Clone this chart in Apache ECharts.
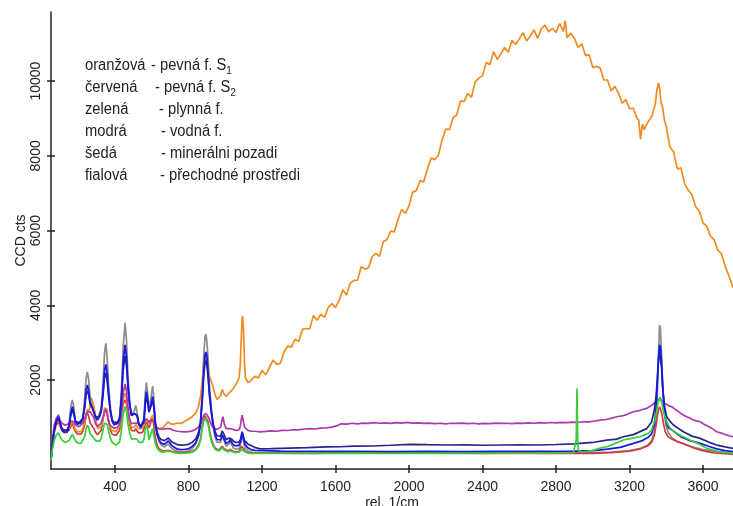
<!DOCTYPE html>
<html>
<head>
<meta charset="utf-8">
<script src="https://cdn.jsdelivr.net/npm/echarts@6/dist/echarts.min.js"></script>
<style>
  html, body { margin: 0; padding: 0; background: #fff; }
  #chart { width: 733px; height: 506px; }
</style>
</head>
<body>
<div id="chart"></div>
<script>
// Raman shift grid (rel. 1/cm) for the mineral-band region
const lowShift = [
  52, 60, 70, 80, 92, 100, 110, 120, 130, 140,
  150, 160, 168, 175, 185, 195, 205, 215, 225, 235,
  243, 250, 257, 265, 275, 285, 295, 305, 315, 325,
  335, 343, 350, 357, 365, 375, 385, 395, 405, 415,
  425, 435, 445, 455, 463, 470, 480, 490, 500, 507,
  513, 520, 530, 540, 550, 558, 565, 571, 578, 585,
  592, 598, 605, 612, 620, 630, 640, 650, 660, 670,
  680, 690, 700, 710, 720, 740, 760, 780, 800, 820,
  840, 855, 865, 875, 883, 890, 895, 900, 907, 915,
  925, 935, 945, 955, 965, 975, 983, 988, 995, 1005,
  1015, 1022, 1028, 1035, 1045, 1060, 1075, 1082, 1088, 1092,
  1095, 1100, 1105, 1110, 1125, 1140
];

// CCD counts on lowShift
const grayLow = [
  -150, 300, 660, 900, 1080, 900, 700, 600, 560, 600,
  800, 1300, 1465, 1320, 900, 820, 810, 860, 980, 1500,
  2050, 2220, 2000, 1550, 1470, 1250, 1020, 940, 970, 1250,
  1950, 2700, 2980, 2650, 1900, 1300, 900, 800, 790, 840,
  980, 1700, 2900, 3530, 3050, 2200, 1450, 1050, 1010, 1200,
  1320, 1150, 820, 730, 780, 980, 1650, 1940, 1650, 1200,
  1180, 1600, 1840, 1500, 850, 520, 360, 270, 220, 210,
  240, 290, 240, 170, 120, 90, 80, 85, 100, 160,
  290, 520, 850, 1750, 2650, 3150, 3230, 3050, 2550, 1800,
  1200, 750, 480, 340, 290, 330, 500, 540, 360, 230,
  220, 300, 370, 260, 180, 150, 170, 250, 430, 560,
  520, 350, 230, 170, 100, 70
];
const blueLow = [
  -150, 300, 650, 860, 1020, 880, 700, 610, 575, 610,
  760, 1120, 1290, 1180, 880, 820, 820, 860, 950, 1300,
  1750, 1870, 1700, 1400, 1290, 1140, 990, 930, 960, 1150,
  1650, 2250, 2420, 2200, 1650, 1150, 900, 810, 800, 840,
  950, 1500, 2500, 2940, 2600, 1950, 1350, 1050, 1000, 1100,
  1150, 1050, 800, 720, 760, 900, 1450, 1690, 1480, 1150,
  1100, 1380, 1560, 1300, 830, 540, 400, 320, 280, 280,
  320, 370, 320, 240, 190, 150, 140, 145, 160, 220,
  330, 520, 780, 1500, 2250, 2680, 2750, 2650, 2200, 1600,
  1100, 780, 540, 410, 370, 400, 540, 580, 420, 300,
  290, 360, 420, 330, 260, 240, 260, 330, 480, 600,
  560, 420, 320, 260, 180, 140
];
const navyLow = [
  -150, 320, 680, 880, 980, 880, 730, 660, 630, 660,
  780, 1060, 1200, 1110, 900, 860, 860, 900, 980, 1250,
  1620, 1720, 1600, 1350, 1260, 1140, 1020, 970, 1000, 1160,
  1580, 2050, 2200, 2000, 1580, 1180, 940, 860, 850, 880,
  980, 1450, 2280, 2650, 2380, 1850, 1330, 1080, 1030, 1100,
  1130, 1060, 840, 770, 800, 920, 1350, 1560, 1400, 1140,
  1110, 1330, 1450, 1250, 850, 600, 480, 410, 380, 380,
  410, 450, 410, 340, 300, 270, 260, 265, 280, 330,
  430, 600, 840, 1450, 2100, 2450, 2520, 2420, 2050, 1550,
  1150, 820, 620, 510, 470, 500, 640, 680, 530, 410,
  390, 450, 500, 420, 360, 330, 340, 400, 530, 620,
  590, 470, 380, 330, 280, 250
];
const redLow = [
  -150, 250, 600, 800, 885, 780, 650, 600, 590, 600,
  660, 760, 840, 740, 620, 560, 530, 550, 620, 800,
  1050, 1108, 1040, 850, 800, 700, 600, 540, 560, 650,
  950, 1140, 1197, 1120, 920, 660, 550, 520, 520, 560,
  650, 1000, 1380, 1465, 1360, 1100, 820, 650, 600, 640,
  700, 640, 580, 560, 600, 700, 820, 885, 800, 720,
  760, 900, 980, 760, 450, 250, 160, 120, 100, 95,
  110, 150, 110, 90, 80, 65, 60, 62, 70, 90,
  150, 260, 400, 750, 930, 1040, 1064, 1020, 880, 650,
  420, 270, 180, 135, 120, 140, 230, 250, 160, 110,
  100, 120, 140, 110, 90, 80, 90, 140, 230, 280,
  260, 160, 110, 85, 60, 50
];
const greenLow = [
  -150, 150, 400, 520, 590, 500, 400, 350, 330, 340,
  380, 470, 555, 470, 380, 320, 300, 310, 360, 480,
  700, 796, 730, 560, 520, 450, 380, 350, 360, 430,
  660, 840, 885, 820, 650, 440, 330, 280, 260, 280,
  340, 650, 1100, 1286, 1150, 860, 580, 420, 390, 430,
  480, 420, 340, 300, 330, 420, 680, 796, 680, 400,
  420, 600, 700, 500, 300, 170, 110, 80, 70, 70,
  90, 110, 90, 70, 60, 45, 40, 42, 50, 70,
  130, 230, 380, 700, 900, 990, 1019, 970, 820, 580,
  360, 230, 150, 115, 100, 120, 190, 200, 130, 90,
  80, 95, 110, 85, 70, 60, 70, 100, 140, 160,
  150, 100, 70, 55, 45, 40
];
const purpleLow = [
  -150, 400, 800, 980, 1050, 950, 850, 800, 790, 800,
  840, 900, 930, 880, 800, 760, 750, 780, 850, 950,
  1080, 1150, 1100, 1150, 1200, 1000, 820, 760, 770, 850,
  1000, 1150, 1220, 1100, 900, 780, 730, 710, 710, 740,
  820, 1050, 1650, 1900, 1700, 1300, 950, 830, 810, 850,
  900, 850, 800, 790, 800, 850, 950, 1000, 930, 870,
  880, 950, 1000, 880, 760, 710, 690, 690, 685, 690,
  700, 720, 700, 670, 650, 630, 620, 615, 620, 640,
  680, 750, 830, 930, 1060, 1090, 1108, 1090, 1020, 930,
  800, 720, 690, 680, 690, 740, 950, 1019, 820, 700,
  680, 700, 720, 690, 665, 655, 670, 760, 960, 1064,
  1030, 860, 740, 690, 650, 635
];
const orangeLow = [
  -150, 280, 640, 850, 940, 830, 700, 650, 640, 650,
  710, 820, 900, 800, 680, 620, 600, 620, 700, 880,
  1100, 1220, 1150, 1300, 1450, 1300, 1000, 700, 680, 760,
  950, 1250, 1300, 1220, 900, 720, 650, 620, 620, 660,
  760, 960, 1500, 1650, 1500, 1200, 880, 730, 710, 750,
  810, 750, 690, 670, 710, 800, 920, 980, 900, 820,
  860, 990, 1060, 880, 760, 720, 700, 700, 720, 760,
  830, 885, 830, 800, 820, 850, 840, 900, 950, 1020,
  1120, 1300, 1550, 1950, 2400, 2650, 2680, 2500, 2250, 2100,
  2050, 1800, 1600, 1480, 1500, 1580, 1750, 1770, 1620, 1560,
  1600, 1660, 1700, 1720, 1780, 1900, 2050, 2400, 3200, 3650,
  3710, 3250, 2450, 2050, 1930, 1990
];

// [shift, counts] above 1150 rel. 1/cm
const orangeHigh = [
  [1160, 2100], [1180, 2055], [1200, 2260], [1220, 2140], [1240, 2330], [1260, 2535],
  [1280, 2420], [1300, 2450], [1320, 2750], [1340, 2910], [1360, 2880], [1380, 3090],
  [1400, 3030], [1420, 3355], [1440, 3380], [1460, 3370], [1480, 3730], [1500, 3600],
  [1520, 3760], [1540, 3675], [1560, 3940], [1580, 4045], [1600, 3940], [1620, 4130],
  [1640, 4415], [1660, 4270], [1680, 4590], [1700, 4670], [1720, 4675], [1740, 5030],
  [1760, 4970], [1780, 5005], [1800, 5310], [1820, 5390], [1840, 5310], [1860, 5710],
  [1880, 5755], [1900, 5990], [1920, 5965], [1940, 6300], [1960, 6565], [1980, 6460],
  [2000, 6660], [2020, 7030], [2040, 7070], [2060, 7340], [2080, 7305], [2100, 7650],
  [2120, 7940], [2140, 7900], [2160, 8020], [2180, 8425], [2200, 8720], [2220, 8700],
  [2240, 9020], [2260, 9100], [2280, 9470], [2300, 9450], [2320, 9670], [2340, 9565],
  [2360, 9980], [2380, 10080], [2400, 10140], [2420, 10500], [2440, 10440], [2460, 10790],
  [2480, 10580], [2500, 10730], [2520, 10900], [2540, 10770], [2560, 11090], [2580, 10980],
  [2600, 11130], [2620, 11300], [2640, 11075], [2660, 11200], [2680, 11370], [2700, 11140],
  [2720, 11405], [2740, 11500], [2760, 11320], [2780, 11415], [2800, 11300], [2820, 11540],
  [2840, 11330], [2850, 11620], [2860, 11160], [2880, 11280], [2900, 11150], [2920, 10900],
  [2940, 11000], [2960, 10690], [2980, 10705], [3000, 10360], [3020, 10400], [3040, 10350],
  [3060, 10030], [3080, 10030], [3100, 9740], [3120, 9860], [3140, 9680], [3160, 9410],
  [3180, 9505], [3200, 9260], [3220, 9275], [3240, 9020], [3250, 8950], [3260, 8450],
  [3270, 8850], [3280, 8700], [3290, 8820], [3300, 8900], [3320, 9050], [3340, 9380],
  [3350, 9800], [3358, 9950], [3365, 9750], [3372, 9420], [3380, 9300], [3390, 8950],
  [3400, 8780], [3420, 8230], [3440, 8110], [3460, 7650], [3480, 7680], [3500, 7250],
  [3520, 7080], [3540, 6950], [3560, 6640], [3580, 6520], [3600, 6200], [3620, 6120],
  [3640, 5850], [3660, 5760], [3680, 5480], [3700, 5380], [3720, 5050], [3740, 4800],
  [3763, 4480]
];
const grayHigh = [
  [1160, 55], [1300, 45], [1500, 50], [1700, 60], [1900, 55], [2100, 60], [2300, 50],
  [2500, 45], [2700, 50], [2900, 55], [3000, 60], [3100, 75], [3200, 110], [3260, 170],
  [3300, 260], [3320, 380], [3335, 600], [3345, 1000], [3352, 1700], [3358, 2700],
  [3363, 3470], [3368, 3400], [3374, 2700], [3380, 1900], [3388, 1200], [3398, 800],
  [3412, 580], [3430, 460], [3460, 360], [3500, 280], [3550, 200], [3600, 140],
  [3680, 80], [3763, 45]
];
const redHigh = [
  [1160, 50], [1300, 45], [1500, 40], [1650, 60], [1750, 80], [1850, 60], [2000, 50],
  [2100, 70], [2200, 45], [2400, 40], [2600, 45], [2800, 40], [3000, 40], [3100, 60],
  [3200, 100], [3260, 160], [3300, 240], [3320, 330], [3335, 520], [3345, 800],
  [3352, 1050], [3358, 1220], [3364, 1286], [3370, 1240], [3376, 1100], [3384, 850],
  [3394, 620], [3410, 480], [3430, 420], [3460, 350], [3493, 300], [3540, 200],
  [3584, 127], [3650, 60], [3700, 35], [3763, 10]
];
const greenHigh = [
  [1160, 40], [1300, 35], [1500, 40], [1700, 45], [1900, 40], [2100, 45], [2300, 40],
  [2500, 42], [2700, 45], [2850, 48], [2895, 50], [2905, 65], [2910, 400], [2914, 1784],
  [2918, 450], [2922, 110], [2935, 80], [2970, 95], [3000, 120], [3040, 180], [3076, 216],
  [3120, 300], [3166, 395], [3210, 440], [3257, 484], [3302, 573], [3320, 660],
  [3338, 930], [3350, 1250], [3358, 1480], [3366, 1537], [3374, 1420], [3385, 1150],
  [3402, 880], [3420, 720], [3438, 640], [3480, 510], [3529, 395], [3580, 280],
  [3620, 172], [3680, 90], [3763, 40]
];
const blueHigh = [
  [1160, 120], [1300, 100], [1500, 90], [1700, 95], [1900, 85], [2100, 90], [2300, 85],
  [2500, 90], [2700, 95], [2900, 100], [3000, 110], [3080, 150], [3150, 200], [3221, 306],
  [3270, 380], [3300, 460], [3320, 560], [3335, 800], [3345, 1300], [3352, 2000],
  [3358, 2650], [3363, 2940], [3368, 2880], [3374, 2500], [3380, 1900], [3388, 1300],
  [3398, 900], [3412, 720], [3438, 640], [3480, 480], [3530, 380], [3584, 306],
  [3630, 230], [3674, 160], [3720, 110], [3763, 83]
];
const navyHigh = [
  [1160, 200], [1189, 160], [1250, 165], [1350, 180], [1450, 190], [1550, 210],
  [1625, 216], [1700, 230], [1800, 235], [1900, 255], [2005, 280], [2100, 270],
  [2200, 262], [2300, 268], [2400, 255], [2500, 262], [2600, 266], [2700, 262],
  [2800, 276], [2900, 295], [2931, 306], [3000, 330], [3076, 395], [3130, 420],
  [3166, 484], [3221, 540], [3257, 620], [3293, 700], [3320, 880], [3335, 1200],
  [3345, 1600], [3352, 2100], [3358, 2550], [3363, 2750], [3368, 2700], [3374, 2350],
  [3380, 1800], [3390, 1300], [3402, 1019], [3420, 900], [3438, 796], [3493, 617],
  [3540, 500], [3584, 439], [3630, 340], [3674, 261], [3720, 210], [3763, 172]
];
const purpleHigh = [
  [1160, 630], [1190, 615], [1220, 625], [1250, 640], [1280, 630], [1310, 655],
  [1340, 650], [1370, 670], [1400, 665], [1430, 690], [1460, 700], [1490, 690],
  [1520, 715], [1550, 720], [1580, 740], [1610, 780], [1630, 830], [1660, 820],
  [1690, 845], [1720, 830], [1750, 850], [1780, 840], [1810, 860], [1840, 845],
  [1870, 855], [1900, 840], [1930, 860], [1960, 850], [1990, 870], [2020, 850],
  [2050, 855], [2080, 840], [2110, 850], [2140, 835], [2170, 845], [2200, 830],
  [2230, 845], [2260, 840], [2290, 850], [2320, 835], [2350, 845], [2380, 830],
  [2410, 840], [2440, 835], [2470, 850], [2500, 840], [2530, 845], [2560, 835],
  [2590, 850], [2620, 840], [2650, 855], [2680, 845], [2710, 860], [2740, 850],
  [2770, 865], [2800, 855], [2830, 870], [2860, 860], [2890, 875], [2920, 870],
  [2950, 885], [2980, 880], [3010, 905], [3040, 930], [3070, 945], [3100, 975],
  [3130, 1019], [3160, 1040], [3190, 1090], [3221, 1152], [3250, 1180], [3275, 1220],
  [3293, 1241], [3310, 1290], [3325, 1340], [3340, 1410], [3352, 1470], [3362, 1500],
  [3372, 1470], [3385, 1400], [3400, 1350], [3415, 1310], [3430, 1286], [3445, 1230],
  [3460, 1180], [3475, 1120], [3493, 1064], [3510, 1020], [3525, 990], [3540, 950],
  [3560, 910], [3584, 885], [3605, 820], [3630, 760], [3650, 700], [3674, 617],
  [3700, 580], [3720, 545], [3740, 510], [3763, 484]
];

// Axis ticks and annotation text
const xTicks = [400, 800, 1200, 1600, 2000, 2400, 2800, 3200, 3600];
const yTicks = [2000, 4000, 6000, 8000, 10000];
const noteNames = ['oranžová', 'červená', 'zelená', 'modrá', 'šedá', 'fialová'];
const noteTexts = ['- pevná f. S{sub|1}', '- pevná f. S{sub|2}', '- plynná f.', '- vodná f.',
                   '- minerálni pozadi', '- přechodné prostředi'];

const FONT = '"Liberation Sans", Arial, Helvetica, sans-serif';
const INK = '#222';

function spectrum(low, high) {
  return lowShift.map((x, i) => [x, low[i]]).concat(high);
}

const traces = [
  { color: '#8c8c8c', data: spectrum(grayLow, grayHigh) },
  { color: '#cf3d3d', data: spectrum(redLow, redHigh) },
  { color: '#f08c1e', data: spectrum(orangeLow, orangeHigh) },
  { color: '#ad3aad', data: spectrum(purpleLow, purpleHigh) },
  { color: '#26268c', data: spectrum(navyLow, navyHigh) },
  { color: '#1818e6', data: spectrum(blueLow, blueHigh) },
  { color: '#38cf38', data: spectrum(greenLow, greenHigh) }
];

const X_MIN = 52, X_MAX = 3763, Y_MIN = -380, Y_MAX = 11850;
const plain = v => String(v);

function xAxisDef(inside) {
  return {
    type: 'value', min: X_MIN, max: X_MAX, position: 'bottom',
    axisLine: { show: !inside, onZero: false, lineStyle: { color: INK, width: 1.5 } },
    axisTick: { show: true, inside: inside, length: 4, customValues: xTicks,
                lineStyle: { color: INK, width: 1.5 } },
    axisLabel: { show: !inside, customValues: xTicks, formatter: plain, margin: 11,
                 fontSize: 14, fontFamily: FONT, color: INK },
    splitLine: { show: false },
    name: inside ? '' : 'rel. 1/cm', nameLocation: 'middle', nameGap: 27, nameMoveOverlap: false,
    nameTextStyle: { fontSize: 14, fontFamily: FONT, color: INK }
  };
}
function yAxisDef(inside) {
  return {
    type: 'value', min: Y_MIN, max: Y_MAX, position: 'left',
    axisLine: { show: !inside, onZero: false, lineStyle: { color: INK, width: 1.5 } },
    axisTick: { show: true, inside: inside, length: 4, customValues: yTicks,
                lineStyle: { color: INK, width: 1.5 } },
    axisLabel: { show: !inside, customValues: yTicks, formatter: plain, rotate: 90,
                 margin: 8, fontSize: 14, fontFamily: FONT, color: INK },
    splitLine: { show: false },
    name: inside ? '' : 'CCD cts', nameLocation: 'middle', nameRotate: 90, nameGap: 23,
    nameMoveOverlap: false,
    nameTextStyle: { fontSize: 14, fontFamily: FONT, color: INK }
  };
}

const rowY0 = 66, rowStep = 22;
const descX = [151, 155, 159, 161, 161, 160];
const notes = [];
noteNames.forEach((name, i) => {
  const y = rowY0 + i * rowStep;
  notes.push({
    type: 'text', x: 85, y: y, scaleX: 0.92, silent: true,
    style: { text: name, fontSize: 16, fontFamily: FONT, fill: INK,
             align: 'left', verticalAlign: 'middle' }
  });
  notes.push({
    type: 'text', x: descX[i], y: y, scaleX: 0.92, silent: true,
    style: { text: noteTexts[i], fontSize: 16, fontFamily: FONT, fill: INK,
             align: 'left', verticalAlign: 'middle', lineHeight: 20,
             rich: { sub: { fontSize: 11, fontFamily: FONT, fill: INK,
                            verticalAlign: 'bottom', lineHeight: 12 } } }
  });
});

const chart = echarts.init(document.getElementById('chart'), null, { renderer: 'canvas' });
chart.setOption({
  animation: false,
  backgroundColor: '#fff',
  grid: { left: 51, right: 0, top: 12, bottom: 37, containLabel: false, outerBoundsMode: 'none' },
  xAxis: [xAxisDef(false), xAxisDef(true)],
  yAxis: [yAxisDef(false), yAxisDef(true)],
  series: traces.map(t => ({
    type: 'line', xAxisIndex: 0, yAxisIndex: 0, data: t.data,
    showSymbol: false, symbol: 'none', silent: true,
    lineStyle: { color: t.color, width: 1.7 }, itemStyle: { color: t.color }
  })),
  graphic: notes
});
</script>
</body>
</html>
